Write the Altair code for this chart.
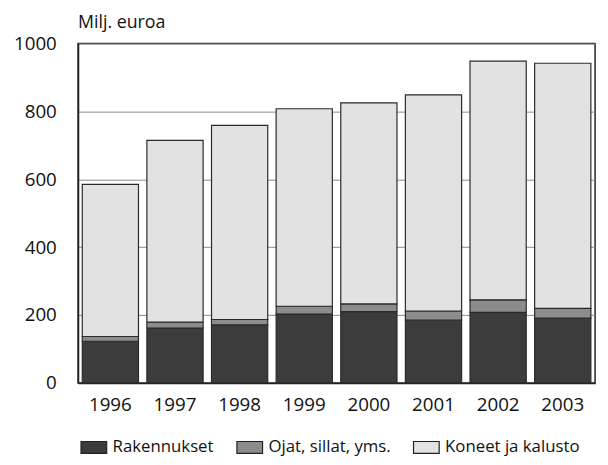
import altair as alt
import pandas as pd

years = ["1996", "1997", "1998", "1999", "2000", "2001", "2002", "2003"]
rakennukset = [123, 162, 171, 203, 210, 185, 208, 191]
ojat = [14, 17, 16, 23, 23, 27, 37, 29]
koneet = [448, 536, 572, 582, 592, 637, 703, 722]
series = ["Rakennukset", "Ojat, sillat, yms.", "Koneet ja kalusto"]
colors = ["#3c3c3c", "#8c8c8c", "#e2e2e2"]

rows = []
for i, y in enumerate(years):
    for k, (name, vals) in enumerate(zip(series, [rakennukset, ojat, koneet])):
        rows.append({"Vuosi": y, "Sarja": name, "Arvo": vals[i], "ord": k})
df = pd.DataFrame(rows)

FONT = "Open Sans"

bars = alt.Chart(df).mark_bar(stroke="#2a2a2a", strokeWidth=1.2).encode(
    x=alt.X("Vuosi:N", sort=years,
            scale=alt.Scale(paddingInner=0.13, paddingOuter=0.065),
            axis=alt.Axis(title=None, labelAngle=0, ticks=False, labelFontSize=19,
                          labelPadding=13, labelColor="#111", labelFont=FONT,
                          domainColor="#222", domainWidth=1.5, grid=False)),
    y=alt.Y("Arvo:Q", stack="zero",
            scale=alt.Scale(domain=[0, 1000], nice=False),
            axis=alt.Axis(title=None, values=[0, 200, 400, 600, 800, 1000], ticks=False,
                          format="d",
                          labelFontSize=19, labelPadding=22, labelColor="#111",
                          labelFont=FONT, domainColor="#222", domainWidth=1.5,
                          grid=True, gridColor="#8a8a8a", gridWidth=1)),
    color=alt.Color("Sarja:N", sort=series,
                    scale=alt.Scale(domain=series, range=colors),
                    legend=alt.Legend(title=None, orient="none", direction="horizontal",
                                      legendX=2, legendY=395,
                                      symbolType="M-1,-0.46H1V0.46H-1Z", symbolSize=676,
                                      symbolStrokeColor="#222", symbolStrokeWidth=1.2,
                                      labelFontSize=17, labelFont=FONT, labelColor="#111",
                                      labelOffset=5, columnPadding=20)),
    order=alt.Order("ord:Q"),
)

chart = bars.properties(
    width=524, height=344,
    title=alt.TitleParams("Milj. euroa", anchor="start", frame="group", fontSize=18,
                          font=FONT, fontWeight="normal", color="#111", offset=3),
    autosize=alt.AutoSizeParams(type="none"),
    padding={"left": 71, "top": 33, "right": 5, "bottom": 72},
).configure_view(stroke="#222", strokeWidth=1.5)

chart.save("out.html", embed_options={"renderer": "svg", "actions": False})
